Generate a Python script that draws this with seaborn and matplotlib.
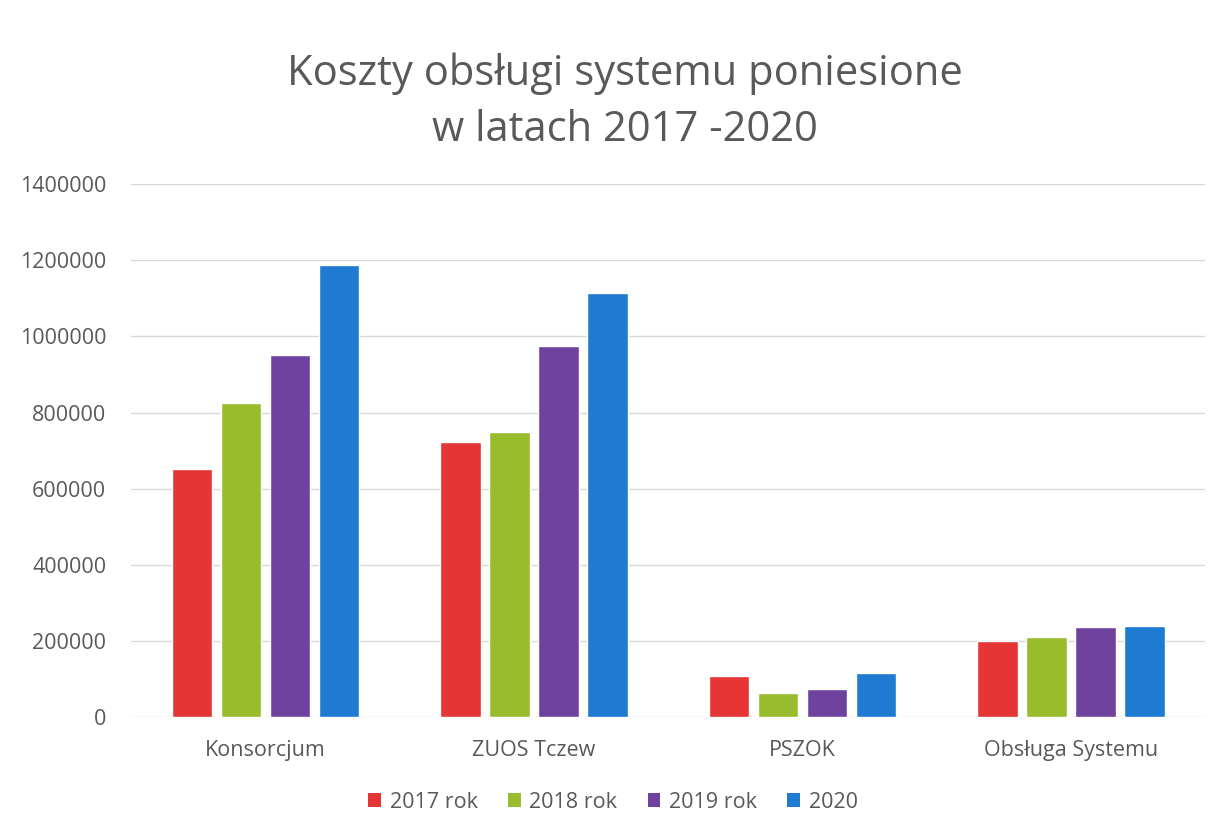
import matplotlib
matplotlib.use('Agg')
import matplotlib.pyplot as plt
import seaborn as sns
import pandas as pd
from matplotlib.patches import Patch

# Data
categories = ["Konsorcjum", "ZUOS Tczew", "PSZOK", "Obsługa Systemu"]
years = ["2017 rok", "2018 rok", "2019 rok", "2020"]
values_2017 = [653000, 722000, 108000, 201000]
values_2018 = [824000, 749000, 63000, 212000]
values_2019 = [952000, 974000, 74000, 238000]
values_2020 = [1186000, 1113000, 117000, 241000]
y_ticks = [0, 200000, 400000, 600000, 800000, 1000000, 1200000, 1400000]

colors = ["#e53535", "#98bc2c", "#6f42a0", "#1f7bd2"]
text_color = "#595959"

series = [values_2017, values_2018, values_2019, values_2020]
rows = []
for year, vals in zip(years, series):
    for cat, v in zip(categories, vals):
        rows.append({"kategoria": cat, "rok": year, "koszt": v})
df = pd.DataFrame(rows)

sns.set_style("white")
plt.rcParams['font.family'] = ['Open Sans', 'DejaVu Sans']

fig = plt.figure(figsize=(12.26, 8.4), dpi=100)
ax = fig.add_axes([0.107, 0.146, 0.876, 0.635])

sns.barplot(data=df, x="kategoria", y="koszt", hue="rok", order=categories,
            hue_order=years, palette=colors, width=0.73, gap=0.18,
            saturation=1, legend=False, ax=ax)

ax.set_ylim(0, 1400000)
ax.set_xlim(-0.5, 3.5)
ax.set_yticks(y_ticks)
ax.set_yticklabels([str(t) for t in y_ticks])
ax.yaxis.grid(True, color="#d9d9d9", linewidth=1)
ax.set_axisbelow(True)
for s in ax.spines.values():
    s.set_visible(False)
ax.tick_params(axis='both', length=0, labelsize=15.5, colors=text_color)
ax.tick_params(axis='y', pad=18)
ax.tick_params(axis='x', pad=16)
ax.set_xlabel("")
ax.set_ylabel("")

fig.text(0.51, 0.879, "Koszty obsługi systemu poniesione\nw latach 2017 -2020",
         ha='center', va='center', fontsize=30, color=text_color, linespacing=1.45)

handles = [Patch(facecolor=c, edgecolor='none') for c in colors]
fig.legend(handles, years, loc='center', bbox_to_anchor=(0.5, 0.045), ncol=4,
           frameon=False, fontsize=15.5, labelcolor=text_color,
           handlelength=0.6, handleheight=0.6, handletextpad=0.4,
           columnspacing=1.4)

plt.savefig("out.png", dpi=100)
plt.close()
